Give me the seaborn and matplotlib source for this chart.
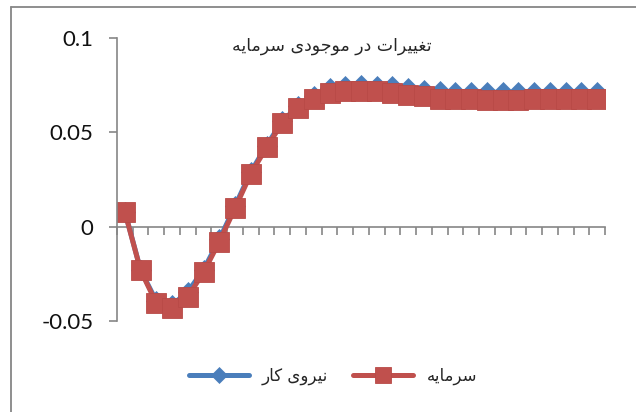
import matplotlib
matplotlib.use("Agg")
import matplotlib.pyplot as plt
import seaborn as sns
import pandas as pd
from matplotlib.lines import Line2D

# ---- data ----
periods = list(range(1, 32))
labour = [0.008, -0.023, -0.0395, -0.0415, -0.0345, -0.0228, -0.0068, 0.011, 0.029, 0.043,
          0.056, 0.0638, 0.0690, 0.0733, 0.0743, 0.0750, 0.0745, 0.0743, 0.0735, 0.0725,
          0.0720, 0.0712, 0.0712, 0.0712, 0.0712, 0.0712, 0.0712, 0.0712, 0.0712, 0.0712, 0.0712]
capital = [0.0078, -0.0232, -0.0406, -0.0431, -0.0371, -0.0242, -0.0080, 0.0098, 0.028, 0.042,
           0.055, 0.063, 0.0678, 0.0710, 0.0718, 0.0718, 0.0718, 0.0710, 0.0700, 0.0690,
           0.0678, 0.0678, 0.0678, 0.0669, 0.0669, 0.0669, 0.0678, 0.0678, 0.0678, 0.0678, 0.0678]
yticks = [-0.05, 0, 0.05, 0.1]
ytick_labels = ["-0.05", "0", "0.05", "0.1"]

# Persian text written with Arabic presentation forms in visual order
def visual(codes):
    return "".join(chr(c) for c in reversed(codes))

title_txt = visual([0xFE97, 0xFED0, 0xFBFF, 0xFBFF, 0xFEAE, 0xFE8D, 0xFE95, 0x20,
                    0xFEA9, 0xFEAD, 0x20,
                    0xFEE3, 0xFEEE, 0xFE9F, 0xFEEE, 0xFEA9, 0xFBFC, 0x20,
                    0xFEB3, 0xFEAE, 0xFEE3, 0xFE8E, 0xFBFE, 0xFEEA])
label_labour = visual([0xFEE7, 0xFBFF, 0xFEAE, 0xFEED, 0xFBFC, 0x20, 0xFB90, 0xFE8E, 0xFEAD])
label_capital = visual([0xFEB3, 0xFEAE, 0xFEE3, 0xFE8E, 0xFBFE, 0xFEEA])

df = pd.DataFrame({"t": list(range(len(periods))), "labour": labour, "capital": capital})

sns.set_style("white")
plt.rcParams["font.family"] = ["Lato", "DejaVu Sans"]

W, H = 636, 412
fig = plt.figure(figsize=(W / 100, H / 100), dpi=100)
ax = fig.add_axes([117 / W, 1 - 321 / H, (605 - 117) / W, (321 - 38) / H])

blue = "#4A7EBB"
red = "#C0504D"
sns.lineplot(data=df, x="t", y="labour", ax=ax, color=blue, linewidth=3.6,
             marker="D", markersize=10, markeredgecolor=blue, markeredgewidth=0.5,
             label=label_labour)
sns.lineplot(data=df, x="t", y="capital", ax=ax, color=red, linewidth=3.6,
             marker="s", markersize=14, markeredgecolor="#B84A47", markeredgewidth=0.6,
             label=label_capital)

ax.set_xlim(-0.5, len(periods) - 0.5)
ax.set_ylim(-0.05, 0.1)
ax.set_xlabel("")
ax.set_ylabel("")

gray = "#868686"
for s in ["top", "right"]:
    ax.spines[s].set_visible(False)
ax.spines["left"].set_color(gray)
ax.spines["left"].set_linewidth(1.2)
ax.spines["bottom"].set_position(("data", 0))
ax.spines["bottom"].set_color(gray)
ax.spines["bottom"].set_linewidth(1.2)
ax.spines["bottom"].set_zorder(0.5)

ax.set_xticks([i - 0.5 for i in range(len(periods) + 1)])
ax.set_xticklabels([])
ax.tick_params(axis="x", direction="out", length=5.8, width=1.2, color=gray, bottom=True)
ax.set_yticks(yticks)
ax.set_yticklabels(ytick_labels)
ax.tick_params(axis="y", direction="out", length=5.8, width=1.2, color=gray, left=True,
               labelsize=16, pad=11, labelcolor="#111111")
for lab in ax.get_yticklabels():
    lab.set_fontfamily("Lato")

leg = ax.legend(loc="center", bbox_to_anchor=(333 / W, 1 - 376 / H),
                bbox_transform=fig.transFigure, ncol=2, frameon=False,
                prop={"family": "DejaVu Sans", "size": 12}, handlelength=3.6,
                columnspacing=1.5, handletextpad=0.8, markerscale=0.85)

fig.text(332 / W, 1 - 46 / H, title_txt, ha="center", va="center",
         fontsize=12.5, family="DejaVu Sans")

# outer chart border (runs off the right and bottom edges)
fig.add_artist(Line2D([11 / W, 1.01], [1 - 7 / H, 1 - 7 / H], transform=fig.transFigure,
                      color=gray, linewidth=1.3))
fig.add_artist(Line2D([11 / W, 11 / W], [1 - 7 / H, -0.01], transform=fig.transFigure,
                      color=gray, linewidth=1.3))

fig.savefig("out.png", dpi=100)
